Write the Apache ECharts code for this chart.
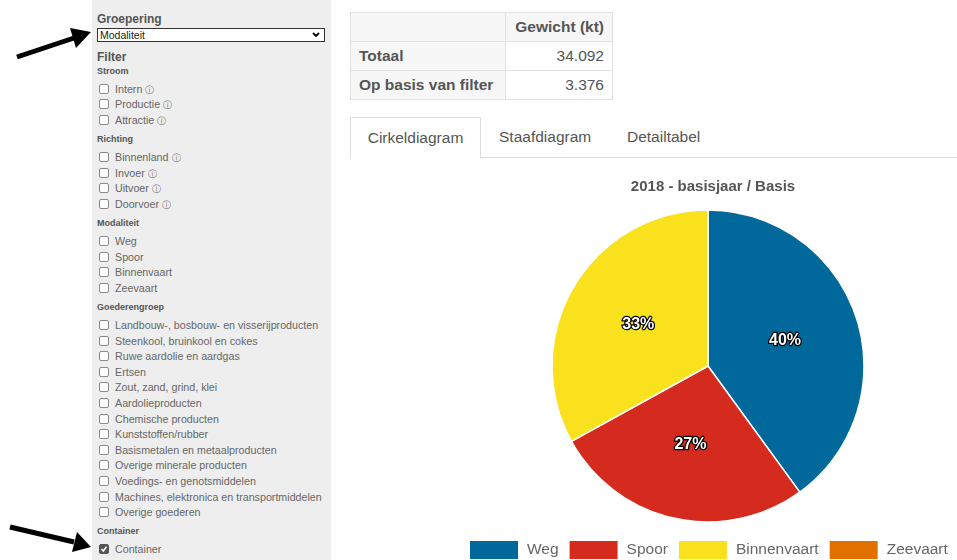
<!DOCTYPE html>
<html>
<head>
<meta charset="utf-8">
<script src="https://cdn.jsdelivr.net/npm/echarts@6/dist/echarts.min.js"></script>
<style>
  body{margin:0;width:957px;height:560px;overflow:hidden;background:#fff;font-family:"Liberation Sans",Arial,sans-serif;color:#555;position:relative}
  .abs{position:absolute;white-space:nowrap;line-height:14px}
  #side{position:absolute;left:92px;top:0;width:239px;height:560px;background:#eeeeee}
  .h1{font-size:12px;font-weight:bold;color:#555}
  .h2{font-size:9px;font-weight:bold;color:#555}
  .item{font-size:10.7px;color:#666}
  .cb{display:inline-block;width:8px;height:8px;border:1px solid #8a8a8a;border-radius:2px;background:#fff;vertical-align:-1px;margin-right:6px;position:relative}
  .cb.on{background:#555;border-color:#555}
  .cb.on svg{position:absolute;left:0;top:0}
  .info{font-size:8.5px;color:#777;margin-left:3px}
  #sel{position:absolute;left:97px;top:28px;width:226px;height:12px;border:1px solid #333;background:#fff;font-size:10.5px;line-height:12px;color:#222}
  table{position:absolute;left:350px;top:12px;border-collapse:collapse;font-size:15.5px;color:#555}
  td{border:1px solid #e2e2e2;height:28px;padding:0 8px}
  td.g{background:#f7f7f7;font-weight:bold}
  td.n{text-align:right;background:#fff}
  #tabs{position:absolute;left:350px;top:117px;width:607px;height:40px;border-bottom:1px solid #ddd;font-size:15.5px;color:#555}
  .tab{position:absolute;top:0;height:40px;line-height:40px}
  .tab.act{left:0;width:129px;border:1px solid #ddd;border-bottom:1px solid #fff;background:#fff;text-align:center}
  #chart{position:absolute;left:340px;top:165px;width:617px;height:395px}
</style>
</head>
<body>
<div id="side"></div>
<svg class="abs" style="left:0;top:0" width="100" height="560">
  <line x1="17" y1="57" x2="74" y2="38" stroke="#000" stroke-width="5"/>
  <polygon points="91,32 70,28 76,48" fill="#000"/>
  <line x1="10" y1="527" x2="74" y2="542" stroke="#000" stroke-width="5"/>
  <polygon points="91,547 77,532 72,552" fill="#000"/>
</svg>
<div id="sel"><span style="margin-left:2px">Modaliteit</span>
  <svg style="position:absolute;right:4px;top:3px" width="8" height="6"><polyline points="1,1 4,4 7,1" fill="none" stroke="#000" stroke-width="1.8"/></svg>
</div>
<table>
  <tr><td class="g" style="width:138px"></td><td class="g" style="width:90px;text-align:right">Gewicht (kt)</td></tr>
  <tr><td class="g">Totaal</td><td class="n">34.092</td></tr>
  <tr><td class="g">Op basis van filter</td><td class="n">3.376</td></tr>
</table>
<div id="tabs">
  <div class="tab act">Cirkeldiagram</div>
  <div class="tab" style="left:149px">Staafdiagram</div>
  <div class="tab" style="left:277px">Detailtabel</div>
</div>
<div id="chart"></div>
<script>
// filter sidebar
const filterGroups = [
  ['Stroom', ['Intern', 'Productie', 'Attractie'], true],
  ['Richting', ['Binnenland', 'Invoer', 'Uitvoer', 'Doorvoer'], true],
  ['Modaliteit', ['Weg', 'Spoor', 'Binnenvaart', 'Zeevaart'], false],
  ['Goederengroep', ['Landbouw-, bosbouw- en visserijproducten', 'Steenkool, bruinkool en cokes',
    'Ruwe aardolie en aardgas', 'Ertsen', 'Zout, zand, grind, klei', 'Aardolieproducten',
    'Chemische producten', 'Kunststoffen/rubber', 'Basismetalen en metaalproducten',
    'Overige minerale producten', 'Voedings- en genotsmiddelen',
    'Machines, elektronica en transportmiddelen', 'Overige goederen'], false],
  ['Container', ['Container', 'Niet-container'], false]
]
const checked = ['Container']

// chart data
const modaliteiten = ['Weg', 'Spoor', 'Binnenvaart', 'Zeevaart']
const gewicht = [1350, 911, 1115, 0]
const kleuren = ['#01689b', '#d52b1e', '#f9e11e', '#e17000']

function addText(cls, txt, x, yc) {
  const el = document.createElement('div')
  el.className = 'abs ' + cls
  el.style.left = x + 'px'
  el.style.top = (yc - 7) + 'px'
  el.innerHTML = txt
  document.body.appendChild(el)
}
const tick = '<svg width="8" height="8"><polyline points="1.5,4 3.3,6 6.5,1.8" fill="none" stroke="#fff" stroke-width="1.5"/></svg>'
addText('h1', 'Groepering', 97, 19)
addText('h1', 'Filter', 97, 57)
let y = 71
filterGroups.forEach((g, gi) => {
  if (gi > 0) y += 19.3
  addText('h2', g[0], 97, y)
  y += 17.8
  g[1].forEach((name, i) => {
    if (i > 0) y += 15.6
    const on = checked.indexOf(name) >= 0 && g[0] === 'Container'
    addText('item', '<span class="cb' + (on ? ' on' : '') + '">' + (on ? tick : '') + '</span>' + name +
      (g[2] ? '<span class="info">ⓘ</span>' : ''), 99, y)
  })
})

const chart = echarts.init(document.getElementById('chart'))
chart.setOption({
  animation: false,
  title: {
    text: '2018 - basisjaar / Basis',
    left: 368, top: 9, textAlign: 'center',
    textStyle: {fontSize: 15, fontWeight: 'bold', color: '#555', fontFamily: 'Liberation Sans'}
  },
  legend: {
    left: 128, top: 374, width: 600,
    padding: 0,
    itemWidth: 50, itemHeight: 20, itemGap: 9,
    icon: 'rect',
    data: modaliteiten,
    selectedMode: false,
    textStyle: {fontSize: 15.5, color: '#666', fontFamily: 'Liberation Sans', padding: [0, 0, 0, 3]}
  },
  series: [{
    type: 'pie',
    center: [368, 201],
    radius: [0, 156],
    startAngle: 90,
    clockwise: true,
    minAngle: 0,
    itemStyle: {borderColor: '#fff', borderWidth: 1.5},
    label: {
      position: 'inside',
      formatter: p => p.value > 0 ? Math.round(p.percent) + '%' : '',
      fontSize: 16, fontWeight: 'bold', color: '#fff',
      textBorderColor: '#000', textBorderWidth: 2.5,
      fontFamily: 'Liberation Sans'
    },
    labelLine: {show: false},
    data: modaliteiten.map((m, i) => ({name: m, value: gewicht[i], itemStyle: {color: kleuren[i]}}))
  }]
})
</script>
</body>
</html>
